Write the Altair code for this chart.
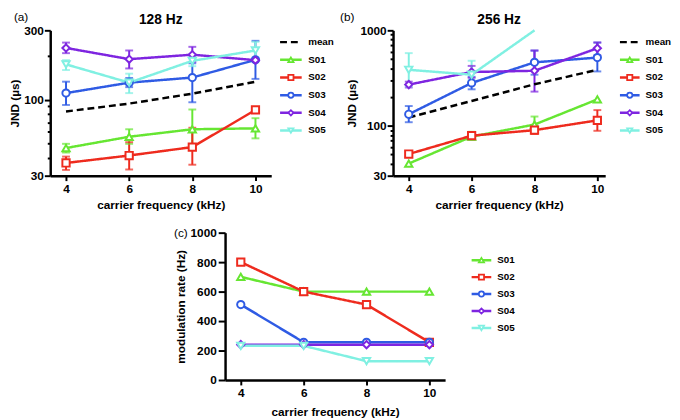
import altair as alt
import pandas as pd

FONT = "Liberation Sans"

freqs = [4, 6, 8, 10]
subjects = ["S01", "S02", "S03", "S04", "S05"]
series_ab = ["mean", "S01", "S02", "S03", "S04", "S05"]
colors_ab = ["#000000", "#66E632", "#EE2B1E", "#2F5BE4", "#7E25E0", "#80F0E2"]
colors_c = ["#66E632", "#EE2B1E", "#2F5BE4", "#4B0F8E", "#80F0E2"]
shape_list = ["triangle-up", "square", "circle", "diamond", "triangle-down"]

# (a) 128 Hz, JND in microseconds
mean_128 = [83, 94, 110, 133]
s01_128 = [46.5, 55.6, 62.6, 63.5]
s01_128_lo = [43.3, 49.7, 46.1, 54.2]
s01_128_hi = [49.7, 62.6, 85.6, 74.6]
s02_128 = [36.7, 41.3, 47.2, 85.0]
s02_128_lo = [32.9, 33.1, 35.7, None]
s02_128_hi = [40.6, 51.0, 64.1, None]
s03_128 = [111, 131, 142, 188]
s03_128_lo = [92, 122, 96, 139]
s03_128_hi = [133, 141, 178, 254]
s04_128 = [227, 190, 204, 187]
s04_128_lo = [209, 164, 182, None]
s04_128_hi = [247, 218, 231, None]
s05_128 = [175, 131, 185, 218]
s05_128_lo = [160, 111, 170, 195]
s05_128_hi = [187, 151, 200, 250]

# (b) 256 Hz, JND in microseconds
mean_256 = [122, 182, 272, 386]
s01_256 = [40.2, 77, 103, 189]
s01_256_lo = [None, 71.3, 85, None]
s01_256_hi = [None, 86.5, 125, None]
s02_256 = [50.6, 78.8, 90, 114]
s02_256_lo = [47.5, None, 82, 88.6]
s02_256_hi = [53.5, None, 99.5, 146]
s03_256 = [132, 281, 462, 518]
s03_256_lo = [109, 241, 343, 371]
s03_256_hi = [161, 326, 614, 745]
s04_256 = [270, 366, 377, 649]
s04_256_lo = [252, 318, 228, 547]
s04_256_hi = [290, 424, 614, 745]
s05_256 = [386, 343, 1000, None]
s05_256_lo = [258, 300, None, None]
s05_256_hi = [577, 480, None, None]

# (c) modulation rate (Hz)
rate_s01 = [700, 600, 600, 600]
rate_s02 = [800, 600, 512, 256]
rate_s03 = [512, 256, 256, 256]
rate_s04 = [240, 240, 240, 240]
rate_s05 = [232, 232, 128, 128]

ticks_128 = [30, 40, 50, 60, 70, 80, 90, 100, 200, 300]
labels_128 = [30, 100, 300]
ticks_256 = [30, 40, 50, 60, 70, 80, 90, 100, 200, 300, 400, 500, 600, 700, 800, 900, 1000]
labels_256 = [30, 100, 1000]
ticks_c = [0, 200, 400, 600, 800, 1000]


def build_df(names, vals, los, his):
    rows = []
    for name, v, lo, hi in zip(names, vals, los, his):
        for i, f in enumerate(freqs):
            rows.append({"series": name, "freq": f, "val": v[i],
                         "lo": lo[i] if lo else None, "hi": hi[i] if hi else None})
    return pd.DataFrame(rows)


def panel(df, names, colors, yscale, yaxis, width, height, xdom, title, tag, tag_xy,
          leg_x, leg_y, x_title_pad=5):
    color = alt.Color("series:N", scale=alt.Scale(domain=names, range=colors), legend=None)
    dash = alt.StrokeDash("series:N", scale=alt.Scale(
        domain=names, range=[[7, 4] if n == "mean" else [1, 0] for n in names]), legend=None)
    shape = alt.Shape("series:N", scale=alt.Scale(domain=subjects, range=shape_list), legend=None)
    xaxis = alt.Axis(values=freqs, title="carrier frequency (kHz)", tickSize=5,
                     labelPadding=3, titlePadding=x_title_pad, labelAngle=0)
    xenc = alt.X("freq:Q", scale=alt.Scale(domain=xdom, nice=False, zero=False), axis=xaxis)

    base = alt.Chart(df)
    err = base.transform_filter("isValid(datum.lo)").mark_rule(strokeWidth=2).encode(
        x=xenc, y=alt.Y("lo:Q", scale=yscale, axis=yaxis), y2="hi:Q", color=color)
    caps = base.transform_filter("isValid(datum.lo)").transform_fold(
        ["lo", "hi"], as_=["end", "cap"]).mark_tick(
        orient="horizontal", size=8, thickness=2).encode(
        x=xenc, y=alt.Y("cap:Q", scale=yscale, axis=yaxis), color=color)
    line = base.transform_filter("isValid(datum.val)").mark_line(strokeWidth=2.5).encode(
        x=xenc, y=alt.Y("val:Q", scale=yscale, axis=yaxis), color=color, strokeDash=dash)
    pts = base.transform_filter(
        "datum.series != 'mean' && isValid(datum.val) && datum.val < 999").mark_point(
        filled=False, fill="white", fillOpacity=1, opacity=1, strokeWidth=2, size=55).encode(
        x=xenc, y=alt.Y("val:Q", scale=yscale, axis=yaxis), color=color, shape=shape)
    main = alt.layer(err, caps, line, pts)

    leg_line_df = pd.DataFrame([{"series": n, "idx": i, "lx": x}
                                for i, n in enumerate(names) for x in (0, 1)])
    leg_pt_df = pd.DataFrame([{"series": n, "idx": i, "lx": 0.5}
                              for i, n in enumerate(names) if n != "mean"])
    leg_txt_df = pd.DataFrame([{"series": n, "idx": i, "lx": 1.3}
                               for i, n in enumerate(names)])
    lx = alt.X("lx:Q", scale=alt.Scale(domain=[0, 1], range=leg_x), axis=None)
    ly = alt.Y("idx:Q", scale=alt.Scale(domain=[0, len(names) - 1], range=leg_y), axis=None)
    leg_line = alt.Chart(leg_line_df).mark_line(strokeWidth=2.5).encode(
        x=lx, y=ly, color=color, strokeDash=dash, detail="series:N")
    leg_pt = alt.Chart(leg_pt_df).mark_point(
        filled=False, fill="white", fillOpacity=1, opacity=1, strokeWidth=1.8, size=28).encode(
        x=lx, y=ly, color=color, shape=shape)
    leg_txt = alt.Chart(leg_txt_df).mark_text(
        align="left", baseline="middle", font=FONT, fontWeight="bold", fontSize=10,
        color="black").encode(x=lx, y=ly, text="series:N")
    legend = alt.layer(leg_line, leg_pt, leg_txt)

    tag_chart = alt.Chart(pd.DataFrame({"tag": [tag]})).mark_text(
        align="left", baseline="middle", font=FONT, fontSize=12, color="black").encode(
        x=alt.value(tag_xy[0]), y=alt.value(tag_xy[1]), text="tag:N")

    ch = alt.layer(main, legend, tag_chart).resolve_scale(x="independent", y="independent")
    props = dict(width=width, height=height)
    if title:
        props["title"] = alt.TitleParams(title, anchor="middle", offset=-16)
    return ch.properties(**props)


def log_axis(ticks, labels, title):
    lab = "[" + ",".join(str(v) for v in labels) + "]"
    return alt.Axis(values=ticks, title=title, labelPadding=1, titlePadding=2,
                    labelExpr="indexof(" + lab + ", datum.value) >= 0 ? '' + datum.value : ''",
                    tickSize={"condition": {"test": "indexof(" + lab + ", datum.value) >= 0",
                                            "value": 6}, "value": 3})


df_a = build_df(series_ab,
                [mean_128, s01_128, s02_128, s03_128, s04_128, s05_128],
                [None, s01_128_lo, s02_128_lo, s03_128_lo, s04_128_lo, s05_128_lo],
                [None, s01_128_hi, s02_128_hi, s03_128_hi, s04_128_hi, s05_128_hi])
df_b = build_df(series_ab,
                [mean_256, s01_256, s02_256, s03_256, s04_256, s05_256],
                [None, s01_256_lo, s02_256_lo, s03_256_lo, s04_256_lo, s05_256_lo],
                [None, s01_256_hi, s02_256_hi, s03_256_hi, s04_256_hi, s05_256_hi])
df_c = build_df(subjects, [rate_s01, rate_s02, rate_s03, rate_s04, rate_s05],
                [None] * 5, [None] * 5)

pa = panel(df_a, series_ab, colors_ab,
           alt.Scale(type="log", domain=[30, 300], nice=False),
           log_axis(ticks_128, labels_128, "JND (µs)"),
           225, 148, [3.5, 10.5], "128 Hz", "(a)", (-37, -13),
           [234, 256], [12, 102])
pb = panel(df_b, series_ab, colors_ab,
           alt.Scale(type="log", domain=[30, 1000], nice=False),
           log_axis(ticks_256, labels_256, "JND (µs)"),
           216, 148, [3.5, 10.25], "256 Hz", "(b)", (-54, -13),
           [231, 251], [12, 102])
pc = panel(df_c, subjects, colors_c,
           alt.Scale(domain=[0, 1000], nice=False),
           alt.Axis(values=ticks_c, title="modulation rate (Hz)", tickSize=7, format="d",
                    labelPadding=2, titlePadding=3),
           224, 150, [3.5, 10.5], None, "(c)", (-52, 0),
           [251, 271], [28, 97], x_title_pad=8)

# empty left cell that pushes panel (c) towards the middle of the figure
spacer = alt.Chart(pd.DataFrame({"s": [0]})).mark_point(opacity=0).encode(
    x=alt.value(0), y=alt.value(0)).properties(width=126, height=10)

row1 = alt.hconcat(pa, pb, spacing=6)
row2 = alt.hconcat(spacer, pc, spacing=0)
chart = alt.vconcat(row1, row2, spacing=17).properties(
    padding=0
).configure_view(stroke=None).configure_axis(
    labelFont=FONT, labelFontWeight="bold", labelFontSize=12, labelColor="black",
    titleFont=FONT, titleFontWeight="bold", titleFontSize=12, titleColor="black",
    domainColor="black", domainWidth=2.5, tickColor="black", tickWidth=2, grid=False
).configure_title(font=FONT, fontSize=14, fontWeight="bold", color="black")

chart.save("out.html", embed_options={"renderer": "svg", "actions": False})
